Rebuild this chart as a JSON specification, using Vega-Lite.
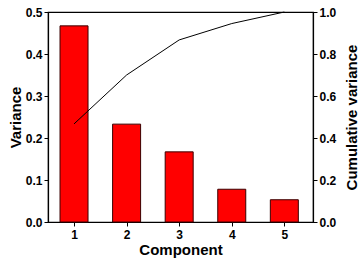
{
  "$schema": "https://vega.github.io/schema/vega-lite/v6.json",
  "autosize": {"type": "none"},
  "width": 265,
  "height": 210,
  "padding": {"left": 48, "top": 12, "right": 46, "bottom": 38},
  "background": "white",
  "config": {
    "view": {"stroke": "black", "strokeWidth": 1.2},
    "font": "Liberation Sans",
    "axis": {
      "labelFont": "Liberation Sans", "labelFontWeight": "bold", "labelFontSize": 12, "labelColor": "black",
      "titleFont": "Liberation Sans", "titleFontWeight": "bold", "titleFontSize": 15, "titleColor": "black",
      "domainColor": "black", "tickColor": "black", "grid": false, "tickSize": 4, "domainWidth": 1.2
    }
  },
  "data": {"values": [
    {"component": 1, "variance": 0.467, "cumulative": 0.467},
    {"component": 2, "variance": 0.233, "cumulative": 0.70},
    {"component": 3, "variance": 0.167, "cumulative": 0.867},
    {"component": 4, "variance": 0.078, "cumulative": 0.945},
    {"component": 5, "variance": 0.053, "cumulative": 1.0}
  ]},
  "encoding": {
    "x": {
      "field": "component", "type": "quantitative",
      "scale": {"domain": [0.6, 5.45], "nice": false, "zero": false},
      "axis": {"values": [1, 2, 3, 4, 5], "format": "d", "title": "Component", "titlePadding": 2, "labelPadding": 3}
    }
  },
  "layer": [
    {
      "mark": {"type": "bar", "color": "#ff0000", "stroke": "#3a0000", "strokeWidth": 1, "size": 28},
      "encoding": {
        "y": {
          "field": "variance", "type": "quantitative",
          "scale": {"domain": [0, 0.5], "nice": false},
          "axis": {"values": [0, 0.1, 0.2, 0.3, 0.4, 0.5], "format": ".1f", "title": "Variance", "titlePadding": 2}
        }
      }
    },
    {
      "mark": {"type": "line", "color": "black", "strokeWidth": 1},
      "encoding": {
        "y": {
          "field": "cumulative", "type": "quantitative",
          "scale": {"domain": [0, 1], "nice": false},
          "axis": {"orient": "right", "values": [0, 0.2, 0.4, 0.6, 0.8, 1.0], "format": ".1f", "title": "Cumulative variance", "titleAngle": 270, "titleX": 38, "titleY": 105, "titleAlign": "center", "titleBaseline": "middle"}
        }
      }
    }
  ],
  "resolve": {"scale": {"y": "independent"}, "axis": {"y": "independent"}}
}
